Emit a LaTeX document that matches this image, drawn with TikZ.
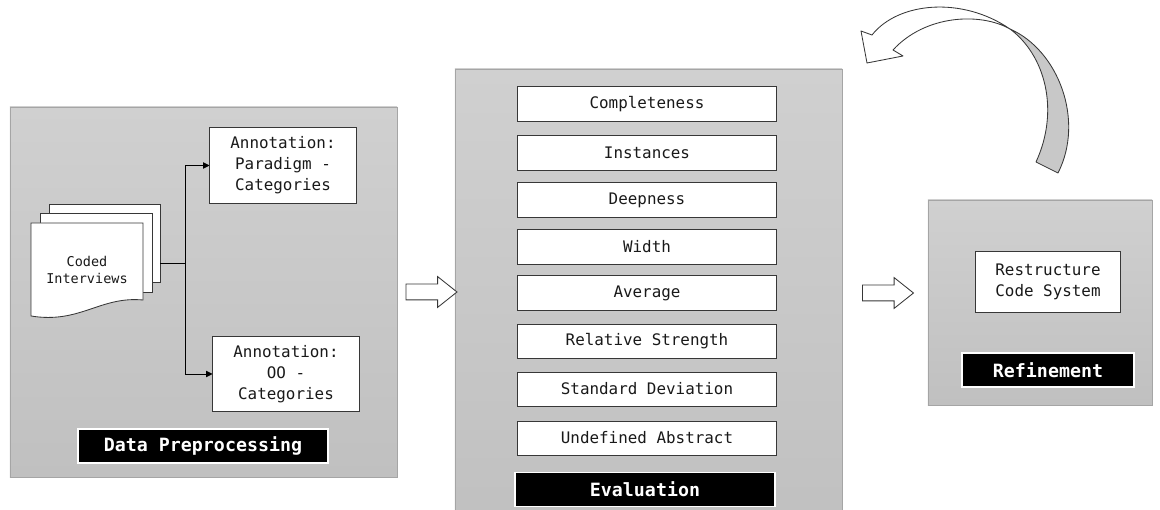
\documentclass[tikz,border=0pt]{standalone}
\usepackage{fontspec}
\setmonofont{DejaVu Sans Mono}
\usetikzlibrary{shapes.arrows,arrows.meta}

\definecolor{panelTop}{RGB}{208,208,208}
\definecolor{panelBot}{RGB}{192,192,192}
\definecolor{panelEdge}{RGB}{165,165,165}
\definecolor{boxLine}{RGB}{55,55,55}
\definecolor{boxText}{RGB}{25,25,25}
\definecolor{curlGray}{RGB}{200,200,200}

\tikzset{
  panel/.style={draw=panelEdge, top color=panelTop, bottom color=panelBot, line width=0.6pt, inner sep=0},
  metric/.style={draw=boxLine, fill=white, line width=0.7pt, minimum width=6.45cm, minimum height=0.85cm,
    inner sep=0, text=boxText, font=\ttfamily\fontsize{11.3}{15}\selectfont},
  annot/.style={metric, minimum width=3.65cm, minimum height=1.875cm, align=center},
  tag/.style={draw=white, fill=black, line width=0.8pt, minimum height=0.85cm, inner sep=0,
    text=white, font=\ttfamily\bfseries\fontsize{13}{15}\selectfont},
  doc/.style={draw=boxLine, fill=white, line width=0.6pt},
  link/.style={draw=black, line width=0.6pt},
  hollow/.style={single arrow, draw=boxLine, fill=white, line width=0.6pt, minimum height=1.275cm,
    inner xsep=0, inner ysep=0.1875cm, single arrow head extend=0.1875cm, single arrow tip angle=77},
  curl/.style={draw=boxLine, line width=0.6pt, line join=round}
}

\begin{document}
\begin{tikzpicture}[x=0.025cm, y=-0.025cm]
\useasboundingbox (0,0) rectangle (1160,510);

% panels
\node[panel, minimum width=9.675cm, minimum height=9.25cm] (prep) at (203.5,292) {};
\node[panel, minimum width=9.675cm, minimum height=11.525cm] (eval) at (648.5,299.5) {};
\node[panel, minimum width=5.6cm, minimum height=5.125cm] (refine) at (1040,302.5) {};

% data preprocessing
\node[doc, minimum width=2.775cm, minimum height=1.95cm, inner sep=0] (docC) at (104.5,243) {};
\node[doc, minimum width=2.8cm, minimum height=1.975cm, inner sep=0] (docB) at (96,252.5) {};
\draw[doc] (31,223) -- (143,223) -- (143,300) .. controls (100,296) and (80,324) .. (31,316) -- cycle;
\node[align=center, text=boxText, font=\ttfamily\fontsize{9.6}{12}\selectfont] (coded) at (87,270) {Coded\\Interviews};
\node[annot] (annoP) at (283,165.5) {Annotation:\\Paradigm -\\Categories};
\node[annot] (annoO) at (286,374) {Annotation:\\OO -\\Categories};
\coordinate (split) at (185,263);
\draw[link] (docC.east |- split) -- (split);
\draw[link, -{Triangle[length=4.5pt,width=4.5pt]}] (split) |- (annoP.west);
\draw[link, -{Triangle[length=4.5pt,width=4.5pt]}] (split) |- (annoO.west);
\node[tag, minimum width=6.25cm] (prepTag) at (203,446) {Data Preprocessing};

% evaluation
\foreach \y/\txt [count=\i] in {104/Completeness, 153/Instances, 200/Deepness, 247/Width,
    293/Average, 341/Relative Strength, 389/Standard Deviation, 438/Undefined Abstract}
  \node[metric] (m\i) at (647,\y) {\txt};
\node[tag, minimum width=6.5cm] (evalTag) at (645,489.5) {Evaluation};

% refinement
\node[annot, minimum width=3.6cm, minimum height=1.5cm] (restr) at (1048,282) {Restructure\\Code System};
\node[tag, minimum width=4.3cm] (refineTag) at (1048,370) {Refinement};

% hollow arrows between panels
\node[hollow] (go1) at (426.5,292) {};
\node[hollow] (go2) at (883,293) {};

% loop back arrow
\draw[curl, fill=curlGray] (1010,29) .. controls (1058,50) and (1085,120) .. (1058,173)
  -- (1036,162) .. controls (1060,110) and (1045,55) .. cycle;
\draw[curl, fill=white] (872,35) -- (861,31) -- (867,63) -- (903,56) -- (893,50)
  .. controls (925,15) and (980,12) .. (1010,29) .. controls (962,-4) and (898,2) .. cycle;
\end{tikzpicture}
\end{document}
